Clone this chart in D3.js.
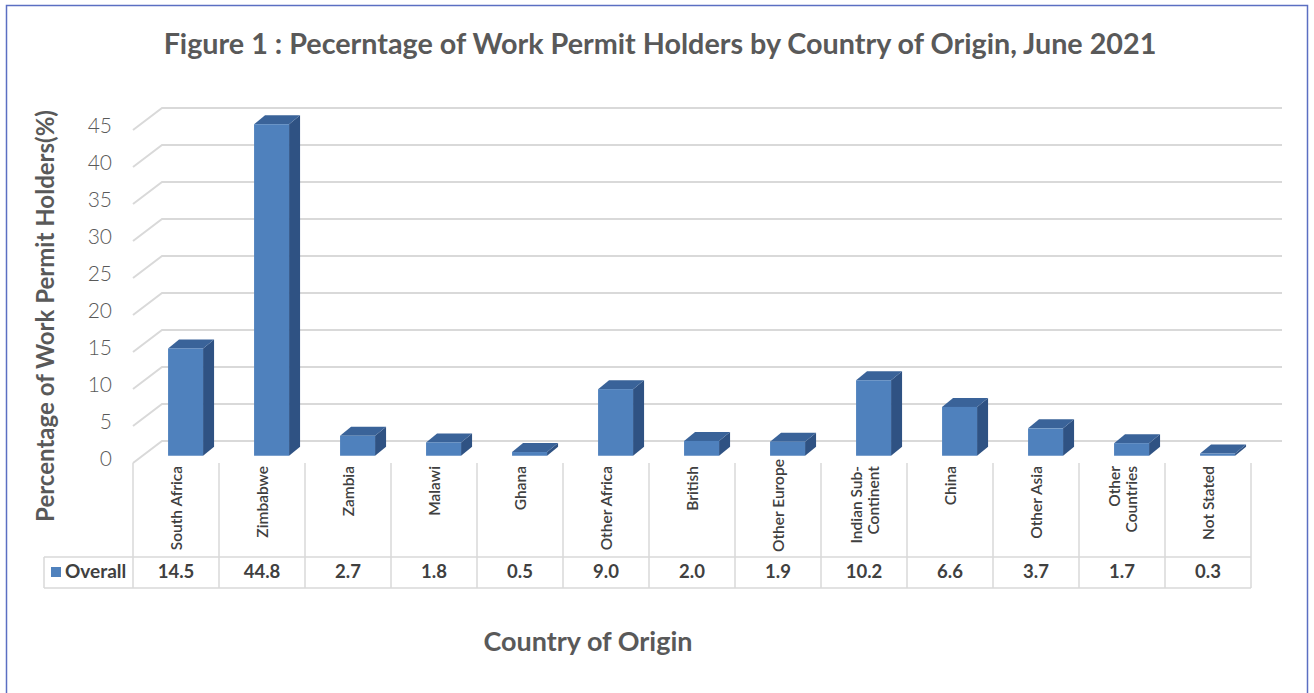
<!DOCTYPE html>
<html lang="en">
<head>
    <meta charset="UTF-8">
    <title>Work Permit Holders by Country of Origin</title>
    <style>
        body { margin: 0; background: #fff; }
        svg { display: block; font-family: 'Lato', 'Open Sans', 'DejaVu Sans', sans-serif; }
    </style>
</head>
<body>
    <svg id="chart" width="1314" height="693"></svg>

    <script src="https://d3js.org/d3.v7.min.js"></script>
    <script>
        // data
        const categories = ["South Africa", "Zimbabwe", "Zambia", "Malawi", "Ghana", "Other Africa", "British",
            "Other Europe", "Indian Sub-\nContinent", "China", "Other Asia", "Other\nCountries", "Not Stated"];
        const overall = [14.5, 44.8, 2.7, 1.8, 0.5, 9.0, 2.0, 1.9, 10.2, 6.6, 3.7, 1.7, 0.3];
        const yTicks = [0, 5, 10, 15, 20, 25, 30, 35, 40, 45];
        const seriesName = "Overall";

        const svg = d3.select("#chart");
        const grey = "#595959", dark = "#404040", gridColor = "#d9d9d9";

        // outer frame
        svg.append("rect")
            .attr("x", 6.5).attr("y", 5.5).attr("width", 1301).attr("height", 700)
            .attr("fill", "none").attr("stroke", "#5b6fc2").attr("stroke-width", 1.5);

        // front plane geometry; the back wall is shifted by (depthX, depthY)
        const left = 133, right = 1251;
        const depthX = 29, depthY = -22;
        const x = d3.scaleBand().domain(categories).range([left, right]).padding(0);
        const y = d3.scaleLinear().domain([0, 45]).range([463, 130]);

        // gridlines: side wall diagonal + back wall line
        const grid = svg.append("g").attr("stroke", gridColor).attr("stroke-width", 2).attr("fill", "none");
        yTicks.forEach(t => {
            const yf = y(t), yb = y(t) + depthY;
            grid.append("path")
                .attr("d", `M${left},${yf}L${left + depthX},${yb}L${right + depthX + 2},${yb}`);
        });

        // tick labels
        svg.append("g").selectAll("text").data(yTicks).join("text")
            .attr("x", 112).attr("y", d => y(d) - 2)
            .attr("text-anchor", "end").attr("dominant-baseline", "middle")
            .attr("font-size", 21).attr("font-weight", 300).attr("fill", grey)
            .text(d => d);

        // bars (3D boxes)
        const barW = 35, f0 = 0.33, bDx = 11, bDy = -9;
        const bars = svg.append("g");
        categories.forEach((c, i) => {
            const x0 = x(c) + x.bandwidth() / 2 - barW / 2 + depthX * f0;
            const x1 = x0 + barW;
            const yb = y(0) + depthY * f0;
            const yt = y(overall[i]) + depthY * f0;
            // side
            bars.append("path")
                .attr("d", `M${x1},${yb}L${x1 + bDx},${yb + bDy}L${x1 + bDx},${yt + bDy}L${x1},${yt}Z`)
                .attr("fill", "#2f5283");
            // top
            bars.append("path")
                .attr("d", `M${x0},${yt}L${x0 + bDx},${yt + bDy}L${x1 + bDx},${yt + bDy}L${x1},${yt}Z`)
                .attr("fill", "#3a6399");
            // front
            bars.append("rect")
                .attr("x", x0).attr("y", yt).attr("width", barW).attr("height", yb - yt)
                .attr("fill", "#4f81bd");
        });

        // data table below the plot
        const tTop = 463, rowTop = 557, rowBot = 588, legLeft = 44;
        const table = svg.append("g").attr("stroke", gridColor).attr("stroke-width", 1.5);
        d3.range(categories.length + 1).forEach(i => {
            const xx = left + i * x.bandwidth();
            table.append("line").attr("x1", xx).attr("x2", xx).attr("y1", tTop).attr("y2", rowBot);
        });
        table.append("line").attr("x1", legLeft).attr("x2", right).attr("y1", rowTop).attr("y2", rowTop);
        table.append("line").attr("x1", legLeft).attr("x2", right).attr("y1", rowBot).attr("y2", rowBot);
        table.append("line").attr("x1", legLeft).attr("x2", legLeft).attr("y1", rowTop).attr("y2", rowBot);

        // category labels, rotated; long ones are pushed up so they stay inside the cell
        categories.forEach(c => {
            const lines = c.split("\n");
            const cx = x(c) + x.bandwidth() / 2;
            lines.forEach((ln, j) => {
                const lx = cx + (j - (lines.length - 1) / 2) * 17;
                const t = svg.append("text")
                    .attr("text-anchor", "end")
                    .attr("font-size", 15.5).attr("font-weight", 600).attr("fill", dark)
                    .text(ln);
                const len = t.node().getComputedTextLength();
                const top = Math.min(466, 552 - len);
                t.attr("transform", `translate(${lx + 6},${top}) rotate(-90)`);
            });
        });

        // values row
        svg.append("g").selectAll("text").data(overall).join("text")
            .attr("x", (d, i) => x(categories[i]) + x.bandwidth() / 2)
            .attr("y", (rowTop + rowBot) / 2 + 1)
            .attr("text-anchor", "middle").attr("dominant-baseline", "middle")
            .attr("font-size", 18.5).attr("font-weight", 700).attr("fill", dark)
            .text(d => d.toFixed(1));

        // legend key
        svg.append("rect").attr("x", 51).attr("y", 567).attr("width", 10).attr("height", 10).attr("fill", "#4f81bd");
        svg.append("text").attr("x", 65).attr("y", (rowTop + rowBot) / 2 + 1)
            .attr("dominant-baseline", "middle")
            .attr("font-size", 19).attr("font-weight", 700).attr("fill", dark)
            .text(seriesName);

        // fit a text element to a target width
        function fit(sel, w) {
            const fs = +sel.attr("font-size");
            const len = sel.node().getComputedTextLength();
            sel.attr("font-size", fs * w / len);
        }

        const title = svg.append("text")
            .attr("x", 660).attr("y", 54).attr("text-anchor", "middle")
            .attr("font-size", 24).attr("font-weight", 700).attr("fill", grey)
            .text("Figure 1 : Pecerntage of Work Permit Holders by Country of Origin, June 2021");
        fit(title, 993);

        const yTitle = svg.append("text")
            .attr("transform", "translate(54,316) rotate(-90)").attr("text-anchor", "middle")
            .attr("font-size", 20).attr("font-weight", 700).attr("fill", grey)
            .text("Percentage of Work Permit Holders(%)");
        fit(yTitle, 412);

        const xTitle = svg.append("text")
            .attr("x", 588).attr("y", 651).attr("text-anchor", "middle")
            .attr("font-size", 23).attr("font-weight", 700).attr("fill", grey)
            .text("Country of Origin");
        fit(xTitle, 209);
    </script>
</body>
</html>
